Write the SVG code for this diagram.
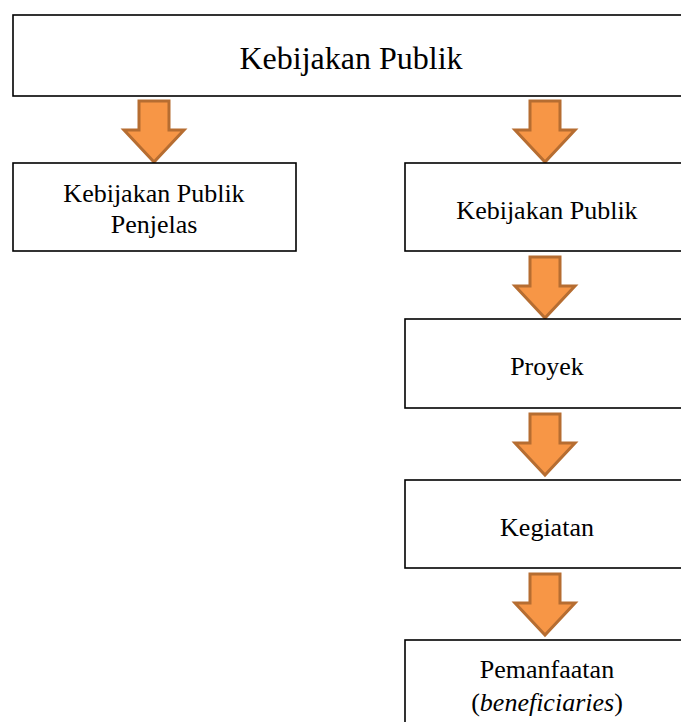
<svg xmlns="http://www.w3.org/2000/svg" width="681" height="722" viewBox="0 0 681 722">
<defs>
<style>
.box{fill:#fff;stroke:#000;stroke-width:1.6}
.t{fill:#000;text-anchor:middle}
.arr{fill:#F79646;stroke:#B66D31;stroke-width:3;stroke-linejoin:miter}
</style>
<path id="a" class="arr" d="M-15,0 H15 V29 H30 L0,61 L-30,29 H-15 Z"/>
</defs>
<rect width="681" height="722" fill="#fff"/>
<g id="connectors">
<use href="#a" x="154" y="101"/>
<use href="#a" x="545" y="101"/>
<use href="#a" x="545" y="257"/>
<use href="#a" x="545" y="414"/>
<use href="#a" x="545" y="574"/>
</g>
<g font-family="Liberation Serif, DejaVu Serif, serif">
<g id="n-top"><rect class="box" x="13" y="15" width="700" height="81"/><text class="t" x="351" y="69" font-size="32">Kebijakan Publik</text></g>
<g id="n-penjelas"><rect class="box" x="13" y="163" width="283" height="88"/><text class="t" x="154" y="202" font-size="26">Kebijakan Publik</text><text class="t" x="154" y="233" font-size="26">Penjelas</text></g>
<g id="n-kp"><rect class="box" x="405" y="163" width="300" height="88"/><text class="t" x="547" y="219" font-size="26">Kebijakan Publik</text></g>
<g id="n-proyek"><rect class="box" x="405" y="319" width="300" height="89"/><text class="t" x="547" y="375" font-size="26">Proyek</text></g>
<g id="n-kegiatan"><rect class="box" x="405" y="480" width="300" height="88"/><text class="t" x="547" y="536" font-size="26">Kegiatan</text></g>
<g id="n-pemanfaatan"><rect class="box" x="405" y="640" width="300" height="100"/><text class="t" x="547" y="678" font-size="26">Pemanfaatan</text><text class="t" x="547" y="711" font-size="26">(<tspan font-style="italic">beneficiaries</tspan>)</text></g>
</g>
</svg>
